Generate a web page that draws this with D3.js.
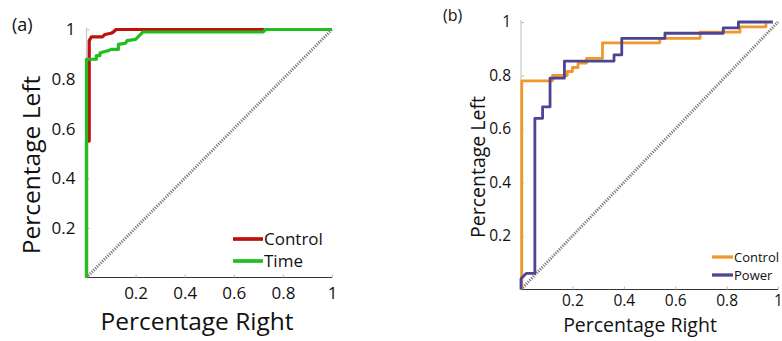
<!DOCTYPE html>
<html>
<head>
<meta charset="utf-8">
<script src="https://cdn.jsdelivr.net/npm/d3@7"></script>
<style>
  body { margin: 0; background: #fff; }
  svg text { font-family: "Open Sans", "Noto Sans", sans-serif; fill: #111; }
</style>
</head>
<body>
<div id="chart"></div>
<script>
var width = 782,
  height = 341;

// ROC curves, [percentage right, percentage left]
var controlA = [[0, 0], [0, 0.55], [0.011, 0.55], [0.011, 0.955], [0.02, 0.97], [0.065, 0.97], [0.075, 0.98],
  [0.1, 0.985], [0.11, 0.99], [0.12, 1], [0.725, 1]];
var timeA = [[0, 0], [0, 0.88], [0.04, 0.88], [0.04, 0.895], [0.055, 0.895], [0.055, 0.905], [0.07, 0.91],
  [0.09, 0.915], [0.1, 0.92], [0.13, 0.92], [0.13, 0.94], [0.16, 0.945], [0.165, 0.955], [0.2, 0.96],
  [0.215, 0.975], [0.23, 0.99], [0.72, 0.99], [0.73, 1], [1, 1]];
var controlB = [[0.003, 0], [0.003, 0.78], [0.123, 0.78], [0.123, 0.8], [0.18, 0.8], [0.18, 0.815], [0.2, 0.815],
  [0.2, 0.83], [0.222, 0.83], [0.222, 0.846], [0.255, 0.846], [0.255, 0.864], [0.317, 0.864], [0.317, 0.922],
  [0.54, 0.922], [0.54, 0.939], [0.697, 0.939], [0.697, 0.962], [0.852, 0.962], [0.852, 0.982],
  [0.953, 0.982], [0.953, 0.995]];
var powerB = [[0, 0], [0, 0.04], [0.02, 0.06], [0.054, 0.06], [0.054, 0.64], [0.084, 0.64], [0.084, 0.683],
  [0.113, 0.683], [0.113, 0.79], [0.169, 0.79], [0.169, 0.854], [0.362, 0.854], [0.362, 0.877],
  [0.392, 0.877], [0.392, 0.939], [0.56, 0.939], [0.56, 0.958], [0.787, 0.958], [0.787, 0.978],
  [0.846, 0.978], [0.846, 1], [0.98, 1]];
var chance = [[0, 0], [1, 1]];

var tickValues = [0.2, 0.4, 0.6, 0.8, 1];
var tickLabels = ["0.2", "0.4", "0.6", "0.8", "1"];
var seriesNamesA = ["Control", "Time"];
var seriesNamesB = ["Control", "Power"];

var svg = d3.select("#chart").append("svg")
  .attr("width", width)
  .attr("height", height);

function drawPanel(opt) {
  var x = d3.scaleLinear().domain([0, 1]).range([opt.left, opt.right]);
  var y = d3.scaleLinear().domain([0, 1]).range([opt.bottom, opt.top]);
  var g = svg.append("g");

  var line = d3.line()
    .x(function(d) { return x(d[0]); })
    .y(function(d) { return y(d[1]); });

  // y axis (light), x axis (dark)
  g.append("line")
    .attr("x1", x(0)).attr("x2", x(0))
    .attr("y1", y(0)).attr("y2", y(1) - 2)
    .attr("stroke", "#c8c8c8").attr("stroke-width", 1.2);
  g.append("line")
    .attr("x1", x(0)).attr("x2", x(1))
    .attr("y1", y(0)).attr("y2", y(0))
    .attr("stroke", "#333").attr("stroke-width", 1.2);

  var xAxis = d3.axisBottom(x).tickValues(tickValues)
    .tickFormat(function(d, i) { return tickLabels[i]; })
    .tickSizeInner(-3).tickSizeOuter(0).tickPadding(opt.xPad);
  var gx = g.append("g").attr("transform", "translate(0," + y(0) + ")").call(xAxis);
  gx.select(".domain").remove();
  gx.selectAll("line").attr("stroke", "#bbb");
  gx.selectAll("text").attr("font-size", opt.tickFont).attr("fill", "#111")
    .style("font-family", "'Open Sans', sans-serif");

  var yAxis = d3.axisLeft(y).tickValues(tickValues)
    .tickFormat(function(d, i) { return tickLabels[i]; })
    .tickSizeInner(-3).tickSizeOuter(0).tickPadding(opt.yPad);
  var gy = g.append("g").attr("transform", "translate(" + x(0) + ",0)").call(yAxis);
  gy.select(".domain").remove();
  gy.selectAll("line").attr("stroke", "#bbb");
  gy.selectAll("text").attr("font-size", opt.tickFont).attr("fill", "#111")
    .style("font-family", "'Open Sans', sans-serif");

  // chance diagonal
  g.append("path")
    .datum(chance)
    .attr("d", line)
    .attr("fill", "none")
    .attr("stroke", "#7a7a7a")
    .attr("stroke-width", 3)
    .attr("stroke-dasharray", "1.2,1.3");

  opt.series.forEach(function(s) {
    g.append("path")
      .datum(s.data)
      .attr("d", line)
      .attr("fill", "none")
      .attr("stroke", s.color)
      .attr("stroke-width", opt.lineWidth)
      .attr("stroke-linejoin", "round");
  });

  // legend
  opt.series.forEach(function(s, i) {
    var ly = opt.legendY + i * opt.legendGap;
    g.append("line")
      .attr("x1", opt.legendX).attr("x2", opt.legendX + opt.legendLen)
      .attr("y1", ly).attr("y2", ly)
      .attr("stroke", s.color).attr("stroke-width", opt.lineWidth + 0.5);
    g.append("text")
      .attr("x", opt.legendX + opt.legendLen + 1)
      .attr("y", ly)
      .attr("dy", "0.35em")
      .attr("font-size", opt.legendFont)
      .text(s.name);
  });

  g.append("text")
    .attr("x", opt.xTitleX)
    .attr("y", opt.xTitleY)
    .attr("text-anchor", "middle")
    .attr("font-size", opt.titleFont)
    .text("Percentage Right");

  g.append("text")
    .attr("transform", "translate(" + opt.yTitleX + "," + opt.yTitleMid + ") rotate(-90)")
    .attr("text-anchor", "middle")
    .attr("font-size", opt.titleFont)
    .text("Percentage Left");

  g.append("text")
    .attr("x", opt.tagX).attr("y", opt.tagY)
    .attr("font-size", opt.tagFont)
    .text(opt.tag);
}

drawPanel({
  left: 86.5, right: 332, bottom: 277.5, top: 29.5,
  tickFont: 17, xPad: 9, yPad: 11, lineWidth: 3.2,
  series: [
    {name: seriesNamesA[0], data: controlA, color: "#c0100c"},
    {name: seriesNamesA[1], data: timeA, color: "#1fbf1f"}
  ],
  legendX: 233, legendY: 239, legendGap: 22, legendLen: 30, legendFont: 17,
  xTitleX: 197, xTitleY: 330, yTitleX: 40, yTitleMid: 165, titleFont: 24.5,
  tag: "(a)", tagX: 12, tagY: 31, tagFont: 18
});

drawPanel({
  left: 521, right: 778, bottom: 289.5, top: 22,
  tickFont: 15.5, xPad: 5, yPad: 10, lineWidth: 2.8,
  series: [
    {name: seriesNamesB[0], data: controlB, color: "#f0982c"},
    {name: seriesNamesB[1], data: powerB, color: "#4c4594"}
  ],
  legendX: 712, legendY: 257, legendGap: 18, legendLen: 21, legendFont: 13,
  xTitleX: 640, xTitleY: 332, yTitleX: 485, yTitleMid: 167, titleFont: 19.5,
  tag: "(b)", tagX: 443, tagY: 21, tagFont: 16
});
</script>
</body>
</html>
